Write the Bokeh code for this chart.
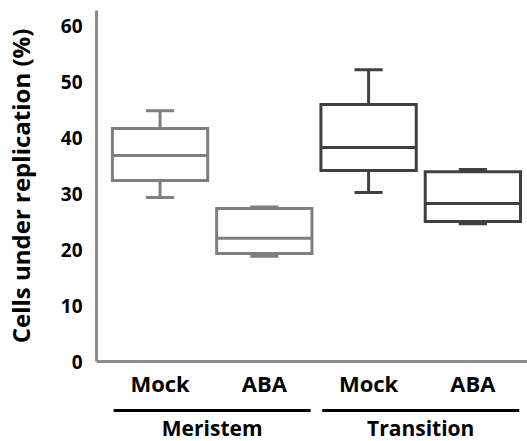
from bokeh.plotting import figure
from bokeh.layouts import column
from bokeh.models import Range1d, FixedTicker, ColumnDataSource
from bokeh.core.properties import value
from bokeh.embed import file_html
from bokeh.resources import INLINE

# ---- data ----
groups = ["Meristem", "Meristem", "Transition", "Transition"]
treatments = ["Mock", "ABA", "Mock", "ABA"]
whisker_low = [29.3, 18.8, 30.2, 24.6]
q1 = [32.3, 19.3, 34.1, 25.0]
median = [36.8, 22.0, 38.2, 28.2]
q3 = [41.6, 27.3, 45.9, 33.9]
whisker_high = [44.8, 27.6, 52.1, 34.3]
y_ticks = [0, 10, 20, 30, 40, 50, 60]
group_names = ["Meristem", "Transition"]
group_colors = {"Meristem": "#7f7f7f", "Transition": "#404040"}
y_title = "Cells under replication (%)"

FONT = "Open Sans"
idx = list(range(len(treatments)))
box_w = 0.914
cap_w = 0.27
GROUP_HALF = 0.945
W = 527
H_MAIN = 405
H_GROUP = 36

x_range = Range1d(-0.6095, 3.524)

p = figure(width=W, height=H_MAIN, output_backend="svg", toolbar_location=None,
           x_range=x_range, y_range=Range1d(0, 62.68),
           min_border_left=93, min_border_right=0, min_border_top=10, min_border_bottom=H_MAIN - 361)
p.outline_line_color = None
p.xgrid.visible = False
p.ygrid.visible = False
p.background_fill_color = "white"

src = ColumnDataSource(dict(
    x=idx, q1=q1, q3=q3, med=median, lo=whisker_low, hi=whisker_high,
    color=[group_colors[g] for g in groups],
    left=[i - box_w / 2 for i in idx], right=[i + box_w / 2 for i in idx],
    cl=[i - cap_w / 2 for i in idx], cr=[i + cap_w / 2 for i in idx],
))

# whiskers
p.segment(x0="x", y0="q3", x1="x", y1="hi", source=src, line_color="color", line_width=3)
p.segment(x0="x", y0="lo", x1="x", y1="q1", source=src, line_color="color", line_width=3)
p.segment(x0="cl", y0="hi", x1="cr", y1="hi", source=src, line_color="color", line_width=3)
p.segment(x0="cl", y0="lo", x1="cr", y1="lo", source=src, line_color="color", line_width=3)
# boxes
p.quad(left="left", right="right", bottom="q1", top="q3", source=src,
       fill_color="white", line_color="color", line_width=3, line_join="miter")
# medians
p.segment(x0="left", y0="med", x1="right", y1="med", source=src, line_color="color", line_width=3)

# y axis
ya = p.yaxis[0]
ya.ticker = FixedTicker(ticks=y_ticks)
ya.axis_label = y_title
ya.axis_label_text_font = FONT
ya.axis_label_text_font_style = "bold"
ya.axis_label_text_font_size = "24px"
ya.axis_label_text_color = "black"
ya.axis_label_standoff = 21
ya.major_label_text_font = FONT
ya.major_label_text_font_style = "bold"
ya.major_label_text_font_size = "19px"
ya.major_label_text_color = "black"
ya.major_label_standoff = 8
ya.major_tick_line_color = None
ya.minor_tick_line_color = None
ya.axis_line_color = "#8c8c8c"
ya.axis_line_width = 3

# x axis (treatments)
xa = p.xaxis[0]
xa.ticker = FixedTicker(ticks=idx)
xa.major_label_overrides = {i: t for i, t in zip(idx, treatments)}
xa.major_label_text_font = FONT
xa.major_label_text_font_style = "bold"
xa.major_label_text_font_size = "22px"
xa.major_label_text_color = "black"
xa.major_label_standoff = 0
xa.major_tick_line_color = None
xa.minor_tick_line_color = None
xa.axis_line_color = "#8c8c8c"
xa.axis_line_width = 3

# group strip below: lines and group names
g = figure(width=W, height=H_GROUP, output_backend="svg", toolbar_location=None,
           x_range=x_range, y_range=Range1d(0, H_GROUP),
           x_axis_location=None, y_axis_location=None,
           min_border_left=93, min_border_right=0, min_border_top=0, min_border_bottom=0)
g.outline_line_color = None
g.xgrid.visible = False
g.ygrid.visible = False

gx, gx0, gx1 = [], [], []
for name in group_names:
    members = [i for i, gg in zip(idx, groups) if gg == name]
    c = sum(members) / len(members)
    gx.append(c)
    gx0.append(c - GROUP_HALF)
    gx1.append(c + GROUP_HALF)
LINE_Y = H_GROUP - 5
LABEL_Y = H_GROUP - 22
g.segment(x0=gx0, y0=[LINE_Y] * 2, x1=gx1, y1=[LINE_Y] * 2, line_color="black", line_width=3)
g.text(x=gx, y=[LABEL_Y] * 2, text=group_names, text_align="center",
       text_baseline="middle", text_font=value(FONT), text_font_style="bold",
       text_font_size="21px", text_color="black")

layout = column(p, g, spacing=0)
open("out.html", "w").write(file_html(layout, INLINE))
